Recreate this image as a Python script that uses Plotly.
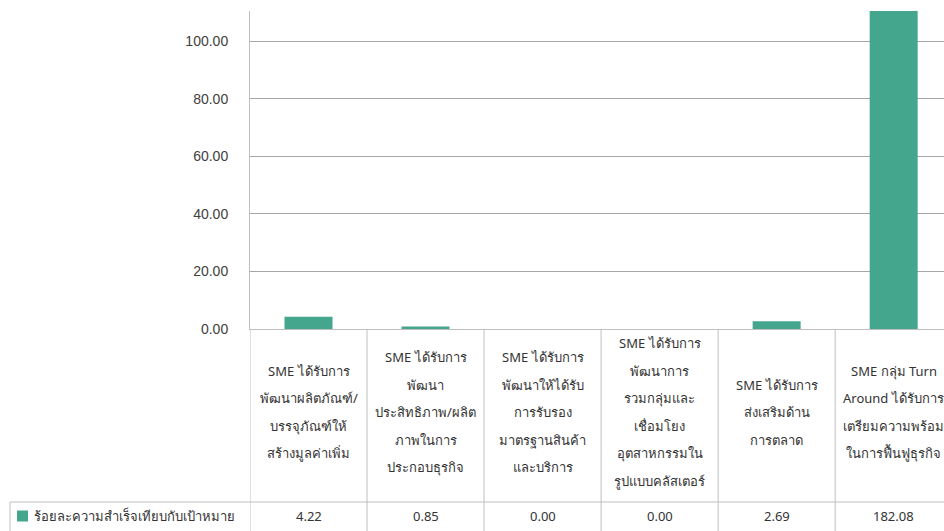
import plotly.graph_objects as go

# header text of each data-table column (one list item per wrapped line)
categories = [
    ["SME ได้รับการ", "พัฒนาผลิตภัณฑ์/", "บรรจุภัณฑ์ให้", "สร้างมูลค่าเพิ่ม"],
    ["SME ได้รับการ", "พัฒนา", "ประสิทธิภาพ/ผลิต", "ภาพในการ", "ประกอบธุรกิจ"],
    ["SME ได้รับการ", "พัฒนาให้ได้รับ", "การรับรอง", "มาตรฐานสินค้า", "และบริการ"],
    ["SME ได้รับการ", "พัฒนาการ", "รวมกลุ่มและ", "เชื่อมโยง", "อุตสาหกรรมใน", "รูปแบบคลัสเตอร์"],
    ["SME ได้รับการ", "ส่งเสริมด้าน", "การตลาด"],
    ["SME กลุ่ม Turn", "Around ได้รับการ", "เตรียมความพร้อม", "ในการฟื้นฟูธุรกิจ"],
]
values = [4.22, 0.85, 0.00, 0.00, 2.69, 182.08]
series_name = "ร้อยละความสำเร็จเทียบกับเป้าหมาย"
y_ticks = [0, 20, 40, 60, 80, 100]

BAR = "#44A68C"
LINE = "#BFBFBF"
GRID = "#A6A6A6"
TXT = "#333333"
FONT = "Noto Sans, DejaVu Sans, sans-serif"
TICK_FONT = "Liberation Sans, Arial, sans-serif"

x = list(range(len(values)))

fig = go.Figure(
    go.Bar(
        x=x,
        y=values,
        width=0.41,
        marker=dict(color=BAR, line=dict(width=0)),
        name=series_name,
        showlegend=False,
    )
)

# table under the plot: pixel offsets measured from the x axis line
row_mid, row_line, val_mid, bottom = 83, 173, 187, 210
line_gap = 27.5

shapes = []
for b in [i - 0.5 for i in x]:
    shapes.append(dict(type="line", xref="x", yref="paper", ysizemode="pixel", yanchor=0,
                       x0=b, x1=b, y0=0, y1=-bottom, line=dict(color=LINE, width=1)))
# horizontal line between header row and value row, plus legend cell border
shapes.append(dict(type="line", xref="paper", yref="paper", xsizemode="pixel", ysizemode="pixel",
                   xanchor=0, yanchor=0, x0=-240, x1=720, y0=-row_line, y1=-row_line,
                   line=dict(color=LINE, width=1)))
shapes.append(dict(type="line", xref="paper", yref="paper", xsizemode="pixel", ysizemode="pixel",
                   xanchor=0, yanchor=0, x0=-240, x1=-240, y0=-row_line, y1=-bottom,
                   line=dict(color=LINE, width=1)))
# legend swatch
shapes.append(dict(type="rect", xref="paper", yref="paper", xsizemode="pixel", ysizemode="pixel",
                   xanchor=0, yanchor=0, x0=-233, x1=-222, y0=-val_mid + 5.5, y1=-val_mid - 5.5,
                   fillcolor=BAR, line=dict(width=0)))

annotations = []
for i, lines in enumerate(categories):
    n = len(lines)
    for k, t in enumerate(lines):
        off = row_mid + (k - (n - 1) / 2) * line_gap
        annotations.append(dict(x=i, xref="x", y=0, yref="paper", yshift=-off, text=t,
                                showarrow=False, xanchor="center", yanchor="middle",
                                font=dict(size=13, color=TXT, family=FONT)))
    annotations.append(dict(x=i, xref="x", y=0, yref="paper", yshift=-val_mid,
                            text=f"{values[i]:.2f}", showarrow=False, xanchor="center",
                            yanchor="middle", font=dict(size=13, color=TXT, family=FONT)))
annotations.append(dict(x=0, xref="paper", xshift=-218, y=0, yref="paper", yshift=-val_mid,
                        text=series_name, showarrow=False, xanchor="left", yanchor="middle",
                        font=dict(size=13, color=TXT, family=FONT)))

fig.update_layout(
    width=944,
    height=531,
    margin=dict(l=250, r=0, t=11, b=202),
    paper_bgcolor="white",
    plot_bgcolor="white",
    font=dict(family=FONT, size=13, color=TXT),
    shapes=shapes,
    annotations=annotations,
)
fig.update_xaxes(range=[-0.5, 5.43], showticklabels=False, ticks="", showgrid=False,
                 showline=True, linecolor=LINE, linewidth=1, zeroline=False)
fig.update_yaxes(range=[0, 110.5], tickvals=y_ticks, tickformat=".2f", showgrid=True,
                 gridcolor=GRID, gridwidth=1, showline=True, linecolor=LINE, linewidth=1,
                 zeroline=False, ticks="", ticklabelstandoff=18,
                 tickfont=dict(size=14, color="#404040", family=TICK_FONT))

# drop the default page margin so the figure sits flush with the window
fig.write_html(
    "out.html",
    config={"displayModeBar": False},
    post_script="document.body.style.margin='0';document.body.style.overflow='hidden';",
)
